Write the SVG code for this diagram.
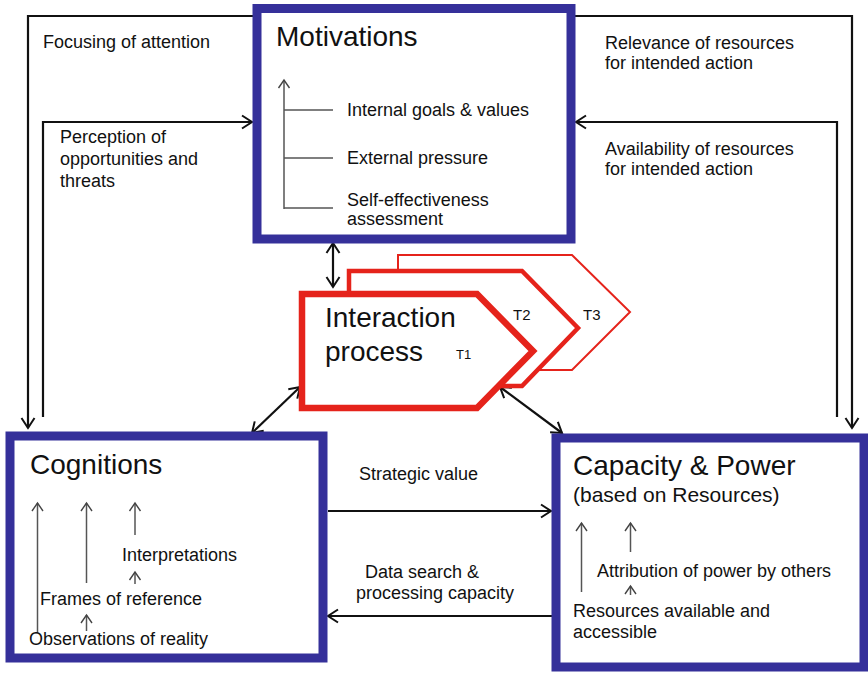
<svg xmlns="http://www.w3.org/2000/svg" width="868" height="673" viewBox="0 0 868 673">
<defs>
<marker id="ah" viewBox="0 0 14 16" refX="12" refY="8" markerWidth="14" markerHeight="16" markerUnits="userSpaceOnUse" orient="auto-start-reverse" overflow="visible">
<path d="M2,1.5 L12,8 L2,14.5" fill="none" stroke="#111" stroke-width="2"/>
</marker>
<marker id="gh" viewBox="0 0 14 12" refX="7" refY="1" markerWidth="14" markerHeight="12" markerUnits="userSpaceOnUse" orient="0" overflow="visible">
<path d="M1.5,9 L7,1 L12.5,9" fill="none" stroke="#444" stroke-width="1.4"/>
</marker>
<style>
text{font-family:"Liberation Sans",Arial,sans-serif;fill:#111}
.box{fill:#fff;stroke:#35309a;stroke-width:9}
.conn{fill:none;stroke:#111;stroke-width:2.2}
.inner{fill:none;stroke:#555;stroke-width:1.5}
.t{font-size:18px}
.title{font-size:28px}
.proc{fill:#fff;stroke:#e5231b;stroke-linejoin:miter}
</style>
</defs>
<rect width="868" height="673" fill="#fff"/>

<g id="connectors">
<polyline class="conn" points="253,16 28,16 28,428" marker-end="url(#ah)"/>
<polyline class="conn" points="43,417 43,122 252,122" marker-end="url(#ah)"/>
<polyline class="conn" points="575,16 852,16 852,428" marker-end="url(#ah)"/>
<polyline class="conn" points="837,417 837,122 576,122" marker-end="url(#ah)"/>
<line class="conn" x1="333" y1="243" x2="333" y2="287" marker-start="url(#ah)" marker-end="url(#ah)"/>
<line class="conn" x1="300" y1="387" x2="252" y2="433" marker-start="url(#ah)" marker-end="url(#ah)"/>
<line class="conn" x1="500" y1="387" x2="562" y2="433" marker-start="url(#ah)" marker-end="url(#ah)"/>
<line class="conn" x1="328" y1="511" x2="551" y2="511" marker-end="url(#ah)"/>
<line class="conn" x1="552" y1="616" x2="328" y2="616" marker-end="url(#ah)"/>
</g>

<g id="connector-labels">
<text class="t" x="43" y="48">Focusing of attention</text>
<text class="t" x="60" y="143">Perception of</text>
<text class="t" x="60" y="165">opportunities and</text>
<text class="t" x="60" y="187">threats</text>
<text class="t" x="605" y="49">Relevance of resources</text>
<text class="t" x="605" y="69">for intended action</text>
<text class="t" x="605" y="155">Availability of resources</text>
<text class="t" x="605" y="175">for intended action</text>
<text class="t" x="359" y="480">Strategic value</text>
<text class="t" x="365" y="578">Data search &amp;</text>
<text class="t" x="356" y="599">processing capacity</text>
</g>

<g id="motivations">
<rect class="box" x="257" y="8.5" width="314" height="230.5"/>
<text class="title" x="276" y="46">Motivations</text>
<line class="inner" x1="284" y1="209" x2="284" y2="80" marker-end="url(#gh)"/>
<line class="inner" x1="284" y1="110" x2="333" y2="110"/>
<line class="inner" x1="284" y1="158" x2="333" y2="158"/>
<line class="inner" x1="284" y1="208" x2="333" y2="208"/>
<text class="t" x="347" y="116">Internal goals &amp; values</text>
<text class="t" x="347" y="164">External pressure</text>
<text class="t" x="347" y="206">Self-effectiveness</text>
<text class="t" x="347" y="225">assessment</text>
</g>

<g id="interaction-process">
<polygon class="proc" stroke-width="2" points="398,255 572,255 630,312 572,370 398,370"/>
<polygon class="proc" stroke-width="4.5" points="349,271 522,271 578,328 522,386 349,386"/>
<polygon class="proc" stroke-width="6.5" points="302,294 477,294 533,351 477,408 302,408"/>
<text class="title" x="325" y="327">Interaction</text>
<text class="title" x="325" y="361">process</text>
<text x="456" y="359" font-size="13">T1</text>
<text x="513" y="320" font-size="15">T2</text>
<text x="583" y="320" font-size="15">T3</text>
</g>

<g id="cognitions">
<rect class="box" x="10" y="436" width="313" height="222"/>
<text class="title" x="30" y="474">Cognitions</text>
<line class="inner" x1="37.5" y1="633" x2="37.5" y2="503" marker-end="url(#gh)"/>
<line class="inner" x1="86.5" y1="583" x2="86.5" y2="503" marker-end="url(#gh)"/>
<line class="inner" x1="135" y1="535" x2="135" y2="503" marker-end="url(#gh)"/>
<line class="inner" x1="135" y1="584" x2="135" y2="572" marker-end="url(#gh)"/>
<line class="inner" x1="86.5" y1="631" x2="86.5" y2="615" marker-end="url(#gh)"/>
<text class="t" x="122" y="561">Interpretations</text>
<text class="t" x="40" y="605">Frames of reference</text>
<text class="t" x="29" y="645">Observations of reality</text>
</g>

<g id="capacity-power">
<rect class="box" x="556" y="438" width="308" height="229"/>
<text class="title" x="573" y="475">Capacity &amp; Power</text>
<text x="573" y="502" font-size="21">(based on Resources)</text>
<line class="inner" x1="581.5" y1="592" x2="581.5" y2="523" marker-end="url(#gh)"/>
<line class="inner" x1="630.5" y1="552" x2="630.5" y2="523" marker-end="url(#gh)"/>
<line class="inner" x1="630.5" y1="595" x2="630.5" y2="586" marker-end="url(#gh)"/>
<text class="t" x="597" y="577">Attribution of power by others</text>
<text class="t" x="573" y="617">Resources available and</text>
<text class="t" x="573" y="638">accessible</text>
</g>
</svg>
